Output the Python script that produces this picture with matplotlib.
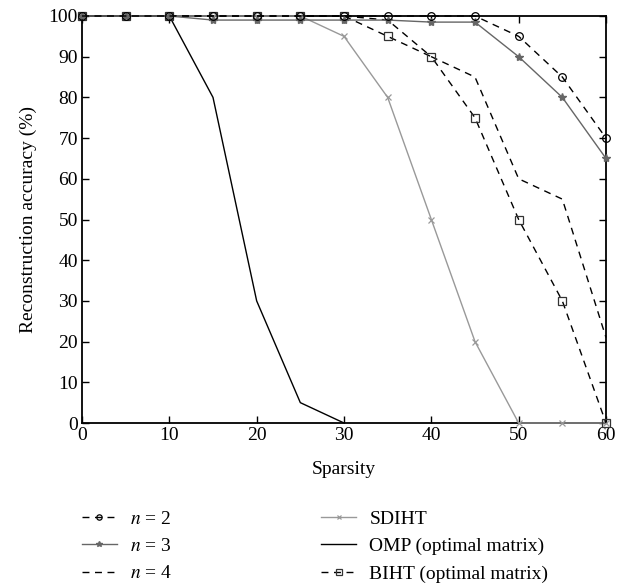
import matplotlib
matplotlib.use("Agg")
import matplotlib.pyplot as plt

plt.rcParams['font.family'] = ['Liberation Serif', 'DejaVu Serif']
plt.rcParams['mathtext.fontset'] = 'stix'

sparsity = [0, 5, 10, 15, 20, 25, 30, 35, 40, 45, 50, 55, 60]
n2 = [100, 100, 100, 100, 100, 100, 100, 100, 100, 100, 95, 85, 70]
n3 = [100, 100, 100, 99, 99, 99, 99, 99, 98.5, 98.5, 90, 80, 65]
n4 = [100, 100, 100, 100, 100, 100, 100, 99, 90, 85, 60, 55, 21]
sdiht = [100, 100, 100, 100, 100, 100, 95, 80, 50, 20, 0, 0, 0]
omp_x = [0, 5, 10, 15, 20, 25, 30]
omp = [100, 100, 100, 80, 30, 5, 0]
biht = [100, 100, 100, 100, 100, 100, 100, 95, 90, 75, 50, 30, 0]

fig = plt.figure(figsize=(6.28, 5.86), dpi=100)
ax = fig.add_axes([82/628, 1-423/586, (606-82)/628, (423-16)/586])

lw = 1.0
ax.plot(sparsity, n4, color='black', ls=(0, (5, 4)), lw=lw, label='$n$ = 4', clip_on=False, zorder=3)
ax.plot(sparsity, sdiht, color='#999999', ls='-', lw=lw, marker='x', ms=4, mew=0.9,
        label='SDIHT', clip_on=False, zorder=3)
ax.plot(omp_x, omp, color='black', ls='-', lw=lw, label='OMP (optimal matrix)', clip_on=False, zorder=3)
ax.plot(sparsity, biht, color='black', ls=(0, (5, 4)), lw=lw, marker='s', ms=5.5, mfc='none',
        mec='#333333', mew=0.9, label='BIHT (optimal matrix)', clip_on=False, zorder=4)
ax.plot(sparsity, n3, color='#666666', ls='-', lw=lw, marker='*', ms=6, mec='#666666',
        label='$n$ = 3', clip_on=False, zorder=4)
ax.plot(sparsity, n2, color='black', ls=(0, (5, 4)), lw=lw, marker='o', ms=5.5, mfc='none',
        mew=0.9, label='$n$ = 2', clip_on=False, zorder=5)

ax.set_xlim(0, 60)
ax.set_ylim(0, 100)
ax.set_xticks(range(0, 61, 10))
ax.set_yticks(range(0, 101, 10))
ax.tick_params(direction='in', top=True, right=True, length=5, width=1, labelsize=14, pad=3)
for s in ax.spines.values():
    s.set_linewidth(1.3)
    s.set_zorder(2)

ax.set_xlabel('Sparsity', fontsize=14, labelpad=12)
ax.set_ylabel('Reconstruction accuracy (%)', fontsize=14, labelpad=8)

handles, labels = ax.get_legend_handles_labels()
order = ['$n$ = 2', '$n$ = 3', '$n$ = 4', 'SDIHT', 'OMP (optimal matrix)', 'BIHT (optimal matrix)']
hmap = dict(zip(labels, handles))
leg = fig.legend([hmap[l] for l in order], order, loc='upper left',
                 bbox_to_anchor=(64/628, 1-493/586), ncol=2, frameon=False,
                 fontsize=14, handlelength=1.8, handletextpad=0.67,
                 columnspacing=7.7, labelspacing=0.49, numpoints=1,
                 markerscale=0.7)

fig.savefig('out.png', dpi=100)
